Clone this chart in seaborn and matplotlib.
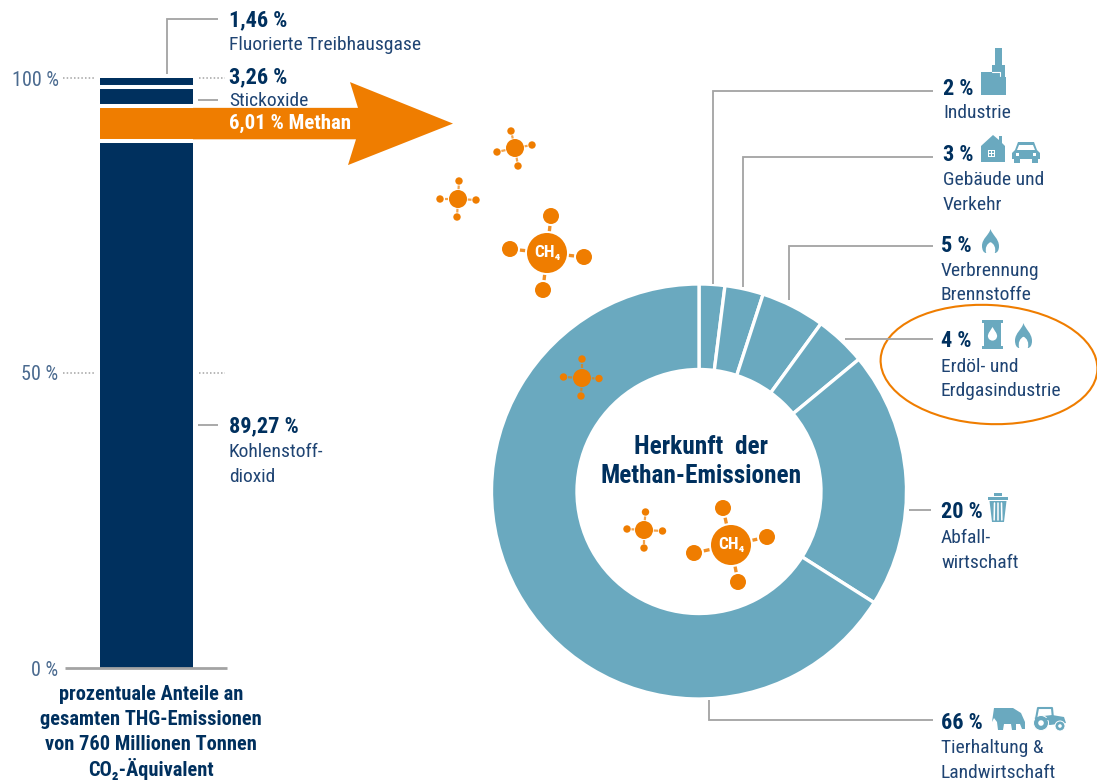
import matplotlib
matplotlib.use("Agg")
import matplotlib.pyplot as plt
import numpy as np
import pandas as pd
import seaborn as sns
from matplotlib.patches import Circle, Ellipse, Polygon, PathPatch, Rectangle
from matplotlib.path import Path

# Greenhouse gas shares, bottom to top
gas_names = ["Kohlenstoffdioxid", "Methan", "Stickoxide", "Fluorierte Treibhausgase"]
gas_shares = [89.27, 6.01, 3.26, 1.46]
y_ticks = [0, 50, 100]
y_tick_labels = ["0 %", "50 %", "100 %"]

# Methane sources, clockwise from twelve o'clock
source_names = ["Industrie", "Gebäude und Verkehr", "Verbrennung Brennstoffe",
                "Erdöl- und Erdgasindustrie", "Abfallwirtschaft",
                "Tierhaltung & Landwirtschaft"]
source_shares = [2, 3, 5, 4, 20, 66]

NAVY = "#00305e"
TEXT = "#1f4473"
TICK = "#4a6a8f"
TEAL = "#6aa9bf"
ORANGE = "#ef7d00"
GRAY = "#a3a3a3"

sns.set_theme(style="white")
plt.rcParams["font.family"] = ["Roboto Condensed", "Liberation Sans", "DejaVu Sans"]

W, H = 1097, 781
fig = plt.figure(figsize=(W / 100, H / 100), dpi=100, facecolor="white")


def px_axes(x0, y0, x1, y1, **kw):
    return fig.add_axes([x0 / W, 1 - y1 / H, (x1 - x0) / W, (y1 - y0) / H], **kw)


# --- stacked column ---
BAR_L, BAR_R, AX_L, AX_R = 100, 193, 60, 230
unit = BAR_R - BAR_L
ax = px_axes(AX_L, 78, AX_R, 668)
frame = pd.DataFrame({"gas": gas_names, "share": gas_shares, "col": ["THG"] * 4})
frame["base"] = frame["share"].cumsum() - frame["share"]
seg_colors = [NAVY, ORANGE, NAVY, NAVY]
for (_, row), c in zip(frame.iterrows(), seg_colors):
    sns.barplot(data=row.to_frame().T.astype({"share": float}), x="col", y="share",
                bottom=row["base"], color=c, saturation=1, width=1,
                errorbar=None, ax=ax, linewidth=0)
xlo = -0.5 - (BAR_L - AX_L) / unit
xhi = 0.5 + (AX_R - BAR_R) / unit
ax.set_xlim(xlo, xhi)
ax.set_ylim(0, 100)
ax.set_xlabel("")
ax.set_ylabel("")
ax.set_xticks([])
ax.set_yticks(y_ticks, y_tick_labels, fontsize=14.5, color=TICK)
ax.tick_params(axis="y", length=0, pad=1)
sns.despine(ax=ax, left=True, bottom=True)
ax.patch.set_alpha(0)

px_x = lambda p: xlo + (p - AX_L) / unit
px_pct = 100 / 590

# the methane segment runs on as an arrow towards the doughnut
m_lo = gas_shares[0]
m_hi = m_lo + gas_shares[1]
m_mid = (m_lo + m_hi) / 2
inset = 2 * px_pct
head = 41.5 * px_pct
ax.add_patch(Polygon([(px_x(BAR_R - 1), m_lo + inset), (px_x(356), m_lo + inset),
                      (px_x(348), m_mid - head), (px_x(453), m_mid),
                      (px_x(350), m_mid + head), (px_x(358), m_hi - inset),
                      (px_x(BAR_R - 1), m_hi - inset)],
                     closed=True, fc=ORANGE, ec="none", clip_on=False, zorder=3))
for b in np.cumsum(gas_shares)[:-1]:
    ax.hlines(b, -0.5, 0.5, color="white", lw=2.9, zorder=4)
ax.hlines(0, px_x(65), px_x(227), color=GRAY, lw=2, clip_on=False, zorder=5)
for t in y_ticks[1:]:
    ax.hlines(t, px_x(63), px_x(96), color=GRAY, lw=1.1, ls=(0, (1, 1.4)), clip_on=False)
    ax.hlines(t, px_x(199), px_x(225), color=GRAY, lw=1.1, ls=(0, (1, 1.4)), clip_on=False)
ax.text(px_x(229), m_mid, "6,01 % Methan", color="white", fontsize=15,
        fontweight="bold", va="center", ha="left", zorder=6)

# --- doughnut ---
CX, CY, R_OUT, R_IN = 699, 491.5, 207.5, 122
donut = px_axes(CX - R_OUT, CY - R_OUT, CX + R_OUT, CY + R_OUT)
donut.pie(source_shares, startangle=90, counterclock=False, radius=1, colors=[TEAL],
          wedgeprops=dict(width=(R_OUT - R_IN) / R_OUT, edgecolor="white", linewidth=2.4))
donut.set_xlim(-1, 1)
donut.set_ylim(-1, 1)

# --- overlay in pixel coordinates: leaders, labels, icons, molecules ---
ov = fig.add_axes([0, 0, 1, 1], zorder=10)
ov.set_xlim(0, W)
ov.set_ylim(H, 0)
ov.axis("off")


def leader(*pts):
    xs, ys = zip(*pts)
    ov.plot(xs, ys, color=GRAY, lw=1.3, solid_joinstyle="miter", solid_capstyle="butt")


def label(x, y, pct, lines, first_step=25, step=24.5):
    ov.text(x, y, pct, color=NAVY, fontsize=16, fontweight="bold", va="center")
    for i, line in enumerate(lines):
        ov.text(x, y + first_step + i * step, line, color=TEXT, fontsize=14, va="center")


leader((167, 74), (167, 19), (218, 19))
leader((198, 100), (218, 100))
leader((198, 425), (218, 425))
label(229, 20, "1,46 %", ["Fluorierte Treibhausgase"])
label(229, 77, "3,26 %", ["Stickoxide"], 24)
label(229, 426, "89,27 %", ["Kohlenstoff-", "dioxid"], 26)

for i, line in enumerate(["prozentuale Anteile an", "gesamten THG-Emissionen",
                          "von 760 Millionen Tonnen", "CO₂-Äquivalent"]):
    ov.text(151, 695 + i * 24.7, line, color=NAVY, fontsize=14.7, fontweight="bold",
            ha="center", va="center")

leader((713, 284), (713, 91), (933, 91))
leader((743, 287), (743, 157), (933, 157))
leader((789, 300), (789, 246), (933, 246))
leader((845, 339), (933, 339))
leader((909, 510), (931, 510))
leader((709, 700), (709, 720), (933, 720))

label(943, 89, "2 %", ["Industrie"], 24)
label(943, 155, "3 %", ["Gebäude und", "Verkehr"])
label(941, 246, "5 %", ["Verbrennung", "Brennstoffe"])
label(941, 341, "4 %", ["Erdöl- und", "Erdgasindustrie"], 26)
label(941, 512, "20 %", ["Abfall-", "wirtschaft"], 26)
label(941, 723, "66 %", ["Tierhaltung &", "Landwirtschaft"], 25)

ov.text(701, 447, "Herkunft  der", color=NAVY, fontsize=18.2, fontweight="bold", ha="center", va="center")
ov.text(701, 476, "Methan-Emissionen", color=NAVY, fontsize=18.2, fontweight="bold", ha="center", va="center")

ov.add_patch(Ellipse((989, 364.5), 217, 119, angle=3, fc="none", ec=ORANGE, lw=1.5, clip_on=False))


def poly(pts, fc=TEAL):
    ov.add_patch(Polygon(pts, closed=True, fc=fc, ec="none"))


def rect(x, y, w, h, fc=TEAL):
    ov.add_patch(Rectangle((x, y), w, h, fc=fc, ec="none"))


def flame(x, y, w, h):
    # outer tongue with a hollow lower middle
    verts = [(0.5, 0), (0.6, 0.25), (1, 0.4), (1, 0.72),
             (1, 0.88), (0.9, 1), (0.75, 1),
             (0.85, 0.8), (0.7, 0.6), (0.5, 0.55),
             (0.3, 0.6), (0.15, 0.8), (0.25, 1),
             (0.1, 1), (0, 0.88), (0, 0.7),
             (0, 0.4), (0.42, 0.25), (0.5, 0)]
    v = [(x + a * w, y + b * h) for a, b in verts]
    codes = [Path.MOVETO] + [Path.CURVE4] * (len(v) - 1)
    ov.add_patch(PathPatch(Path(v, codes), fc=TEAL, ec="none"))


# factory
poly([(995, 48), (1002, 48), (1002, 65), (1005, 65), (1005, 77), (1006, 77), (1006, 95),
      (981, 95), (981, 72), (992, 72), (992, 65), (995, 65)])
ov.plot([992, 1000, 1000], [72, 72, 76], color="white", lw=0.8)
# house
poly([(993, 135), (999, 140), (999, 136), (1002, 136), (1002, 143), (1005, 146),
      (1005, 162), (981, 162), (981, 146)])
rect(988, 150, 7, 7, "white")
rect(988.8, 150.8, 2.4, 2.4)
rect(991.8, 150.8, 2.4, 2.4)
rect(988.8, 153.8, 2.4, 2.4)
rect(991.8, 153.8, 2.4, 2.4)
# car
poly([(1018, 142), (1034, 142), (1037, 150), (1040, 153), (1040, 159), (1012, 159),
      (1012, 153), (1015, 150)])
poly([(1019, 145), (1033, 145), (1035, 150), (1017, 150)], "white")
rect(1014, 158, 6, 5)
rect(1032, 158, 6, 5)
rect(1016, 153, 3, 2.5, "white")
rect(1033, 153, 3, 2.5, "white")
# flames
flame(982, 229, 17, 24)
flame(1015, 323, 17, 25)
# barrel with oil drop
rect(982, 320, 21, 3)
rect(984, 320, 17, 28)
rect(982, 346, 21, 3)
ov.add_patch(Circle((992.5, 336), 4.6, fc="white", ec="none"))
poly([(992.5, 327), (996.5, 333.5), (988.5, 333.5)], "white")
# waste bin
rect(988, 497, 20, 2.5)
rect(994, 493, 8, 3)
poly([(989.5, 501), (1006.5, 501), (1004, 522), (992, 522)])
for sx in (994.5, 998, 1001.5):
    ov.plot([sx, sx + (sx - 998) * 0.1], [503, 520], color="white", lw=1.1)
# cow
poly([(994, 708), (1013, 708), (1021, 713), (1025, 722), (1025, 729), (1022, 729),
      (1020, 724), (1016, 724), (1016, 730), (1012, 730), (1011, 724), (1004, 724),
      (1003, 730), (998, 730), (997, 722), (994, 718), (992, 722)])
# tractor
ov.plot([1036, 1038, 1052, 1053, 1036], [719, 708, 708, 719, 719], color=TEAL, lw=1.5)
poly([(1052, 715), (1064, 717), (1066, 723), (1050, 725), (1034, 722), (1035, 717)])
ov.add_patch(Circle((1041, 723), 7.5, fc=TEAL, ec="white", lw=0.7))
ov.add_patch(Circle((1041, 723), 2.8, fc="white", ec="none"))
ov.add_patch(Circle((1060, 726), 5, fc=TEAL, ec="white", lw=0.7))
ov.add_patch(Circle((1060, 726), 1.8, fc="white", ec="none"))


def molecule(cx, cy, r, sr, sats, name=False):
    gap = 0.8 if r < 15 else 2
    lw = 1.6 if r < 15 else 2.4
    for sx, sy in sats:
        dx, dy = sx - cx, sy - cy
        d = np.hypot(dx, dy)
        ux, uy = dx / d, dy / d
        a, b = r + gap, d - sr - gap
        ov.plot([cx + ux * a, cx + ux * b], [cy + uy * a, cy + uy * b], color=ORANGE,
                lw=lw, alpha=0.85 if r > 15 else 0.7, solid_capstyle="butt")
        ov.add_patch(Circle((sx, sy), sr, fc=ORANGE, ec="none"))
    ov.add_patch(Circle((cx, cy), r, fc=ORANGE, ec="none"))
    if name:
        ov.text(cx, cy, "CH₄", color="white", fontsize=12.5, fontweight="bold",
                ha="center", va="center")


molecule(515, 148, 9, 3.7, [(511, 131), (532, 145), (497, 152), (518, 166)])
molecule(458, 199, 9, 3.7, [(459, 181), (476, 200), (440, 199), (457, 217)])
molecule(547, 253, 20, 8, [(551, 216), (584, 257), (510, 249), (543, 290)], True)
molecule(582, 378, 9, 3.7, [(582, 359), (599, 378.5), (563.5, 377), (581, 396)])
molecule(644, 530, 9, 3.7, [(645.5, 512), (662.5, 531), (627, 529), (644, 548)])
molecule(731, 545, 20, 8, [(723, 508), (767, 537), (694, 553), (738, 582)], True)

fig.savefig("out.png", dpi=100, facecolor="white")
